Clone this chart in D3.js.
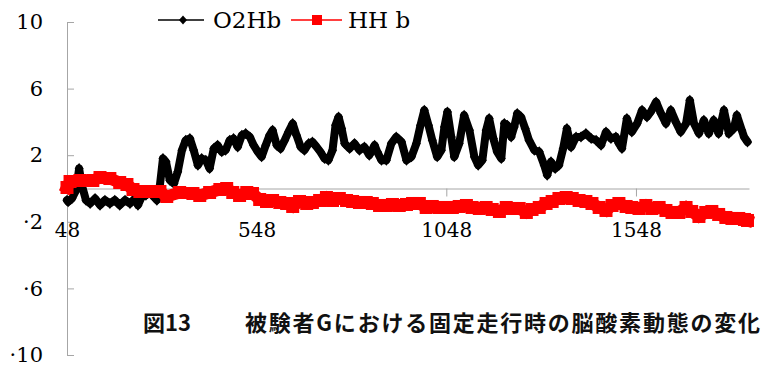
<!DOCTYPE html>
<html>
<head>
<meta charset="utf-8">
<script src="https://cdn.jsdelivr.net/npm/d3@7"></script>
<style>
  html, body { margin: 0; padding: 0; background: #fff; }
  svg { display: block; }
</style>
</head>
<body>
<svg id="chart" width="773" height="367"></svg>
<script>
// Sample numbers (frames) and concentration changes for each signal
const o2hbFrame = [48,51,61,72,80,87,98,109,122,135,148,161,174,187,201,214,227,235,245,256,
  266,277,285,293,301,309,319,330,340,351,361,372,382,393,403,414,424,435,445,456,
  466,477,487,498,509,519,530,540,551,561,572,582,590,601,611,622,632,643,653,664,
  674,685,695,706,716,727,737,748,756,764,772,780,793,806,819,832,845,859,866,877,
  890,903,916,930,943,956,969,980,990,1001,1011,1024,1035,1043,1051,1061,1069,1082,1095,1109,
  1122,1132,1143,1153,1161,1172,1182,1193,1201,1209,1219,1227,1235,1245,1256,1266,1280,1293,1306,1314,
  1324,1335,1345,1356,1366,1377,1390,1403,1416,1430,1443,1456,1469,1482,1495,1503,1511,1524,1537,1551,
  1564,1577,1587,1601,1614,1627,1640,1653,1666,1680,1690,1701,1714,1727,1740,1753,1766,1780,1793,1806,
  1814,1827,1833,1842];
const o2hbValue = [-0.7,-0.8,-0.6,-0.1,1.2,0.2,-0.7,-0.9,-0.6,-1.0,-0.7,-0.9,-0.7,-1.0,-0.7,-0.9,-0.6,-1.0,-0.5,-0.4,
  -0.2,-0.5,-0.7,0.2,1.8,1.6,0.5,0.3,1.0,2.3,2.9,3.0,2.3,1.4,1.8,1.7,1.2,2.4,2.6,2.2,
  2.3,2.9,3.0,2.5,3.2,3.3,3.1,2.6,2.2,1.9,2.6,3.2,3.5,2.6,2.4,2.9,3.4,3.9,3.2,2.5,
  2.3,2.7,2.8,2.5,2.2,1.8,1.7,2.3,3.8,4.3,3.6,2.7,2.4,2.7,2.3,2.5,2.0,2.6,2.2,1.7,
  1.7,2.7,3.1,2.8,1.7,1.9,2.7,3.8,4.7,3.8,2.9,1.9,2.3,3.7,4.6,3.1,1.9,2.7,4.4,3.5,
  1.9,1.4,1.7,3.5,4.2,3.0,2.2,1.8,3.9,3.8,3.1,3.7,4.5,4.3,3.6,2.9,2.3,2.2,1.4,0.8,
  1.6,1.2,1.4,2.4,3.6,2.5,3.1,3.1,3.3,3.0,2.9,2.6,3.4,3.0,3.1,2.7,2.4,4.2,3.4,3.9,
  4.7,4.3,4.6,5.2,4.5,3.9,4.7,4.0,3.4,3.9,5.3,3.9,3.3,4.1,3.3,4.1,3.3,4.7,3.3,3.6,
  4.4,3.5,3.1,2.8];

const hhbFrame = [48,56,82,116,135,161,187,206,222,240,266,293,311,345,380,398,424,451,469,485,
  503,522,537,556,574,590,609,627,643,661,680,695,714,732,748,766,785,801,819,837,
  853,872,890,906,924,943,959,977,995,1011,1030,1048,1064,1082,1101,1116,1135,1153,1169,1188,
  1206,1222,1240,1259,1274,1293,1311,1327,1345,1364,1380,1398,1416,1432,1451,1469,1485,1503,1522,1537,
  1556,1574,1590,1609,1627,1643,1661,1680,1695,1714,1732,1748,1766,1785,1801,1819,1834,1842];
const hhbValue = [0.06,0.42,0.48,0.48,0.66,0.6,0.36,0.24,-0.06,-0.18,-0.18,-0.18,-0.48,-0.24,-0.3,-0.42,-0.24,-0.06,0,-0.24,
  -0.42,-0.24,-0.3,-0.66,-0.78,-0.72,-0.84,-0.9,-1.08,-0.78,-0.9,-0.84,-0.72,-0.54,-0.72,-0.6,-0.72,-0.78,-0.84,-0.84,
  -0.9,-1.02,-1.02,-0.96,-1.02,-0.96,-0.9,-0.9,-1.14,-1.08,-1.14,-1.14,-1.14,-1.08,-1.02,-1.14,-1.2,-1.14,-1.26,-1.38,
  -1.14,-1.2,-1.2,-1.44,-1.26,-1.14,-0.9,-0.78,-0.6,-0.54,-0.6,-0.72,-0.78,-0.9,-1.14,-1.32,-1.02,-0.9,-1.08,-1.14,
  -1.2,-1.02,-1.2,-1.14,-1.32,-1.44,-1.44,-1.14,-1.38,-1.68,-1.44,-1.38,-1.56,-1.74,-1.8,-1.8,-1.86,-1.92];

const xTickValues = [48, 548, 1048, 1548];
const yTickValues = [10, 6, 2, -2, -6, -10];
const seriesNames = ["O2Hb", "HH b"];
const titleLead = "図13";
const titleBody = "被験者Gにおける固定走行時の脳酸素動態の変化";

const svg = d3.select("#chart");
const serif = "'DejaVu Serif', serif";
const axisGrey = "#a6a6a6";

const x = d3.scaleLinear().domain([48, 1846]).range([67, 749]);
const y = d3.scaleLinear().domain([-10, 10]).range([355, 22]);

// y axis: ticks point into the plot, labels sit to the left
const yAxis = svg.append("g")
  .attr("transform", `translate(${x(48)},0)`)
  .call(d3.axisLeft(y).tickValues(yTickValues).tickSize(-7).tickSizeOuter(0).tickPadding(24)
    .tickFormat(d => d < 0 ? "·" + Math.abs(d) : String(d)));
yAxis.select(".domain").attr("stroke", axisGrey);
yAxis.selectAll(".tick line").attr("stroke", axisGrey);
yAxis.selectAll(".tick text").attr("font-family", serif).attr("font-size", 21).attr("fill", "#000");

// x axis crosses at zero; labels hang well below the line
const xAxis = svg.append("g")
  .attr("transform", `translate(0,${y(0)})`)
  .call(d3.axisBottom(x).tickValues(xTickValues).tickSize(8).tickSizeOuter(0).tickPadding(26)
    .tickFormat(d3.format("d")));
xAxis.select(".domain").attr("stroke", axisGrey);
xAxis.selectAll(".tick line").attr("stroke", axisGrey);
xAxis.selectAll(".tick text").attr("font-family", serif).attr("font-size", 20).attr("fill", "#000");

const line = d3.line().x(d => x(d[0])).y(d => y(d[1]));
const o2hb = o2hbFrame.map((f, i) => [f, o2hbValue[i]]);
const hhb = hhbFrame.map((f, i) => [f, hhbValue[i]]);
const diamond = "M0,-5.5L4.5,0L0,5.5L-4.5,0Z";

// O2Hb: heavy line with a diamond on every sample
const gO = svg.append("g");
gO.append("path").datum(o2hb).attr("d", line)
  .attr("fill", "none").attr("stroke", "#000").attr("stroke-width", 8)
  .attr("stroke-linejoin", "round").attr("stroke-linecap", "round");
gO.selectAll("path.m").data(o2hb).join("path").attr("class", "m")
  .attr("d", diamond)
  .attr("transform", d => `translate(${x(d[0])},${y(d[1])})`)
  .attr("fill", "#000");

// HHb: heavy red line with a square on every sample
const gH = svg.append("g");
gH.append("path").datum(hhb).attr("d", line)
  .attr("fill", "none").attr("stroke", "#ff0000").attr("stroke-width", 12)
  .attr("stroke-linejoin", "miter").attr("stroke-linecap", "square");
gH.selectAll("rect").data(hhb).join("rect")
  .attr("x", d => x(d[0]) - 6.5).attr("y", d => y(d[1]) - 6.5)
  .attr("width", 13).attr("height", 13).attr("fill", "#ff0000");

// legend
const legend = svg.append("g");
legend.append("line").attr("x1", 158).attr("x2", 204).attr("y1", 20).attr("y2", 20)
  .attr("stroke", "#000").attr("stroke-width", 1.5);
legend.append("path").attr("d", "M0,-4.5L4,0L0,4.5L-4,0Z")
  .attr("transform", "translate(183,20)").attr("fill", "#000");
legend.append("text").attr("x", 213).attr("y", 28).text(seriesNames[0])
  .attr("font-family", serif).attr("font-size", 23).attr("fill", "#000");
legend.append("line").attr("x1", 291).attr("x2", 342).attr("y1", 20).attr("y2", 20)
  .attr("stroke", "#ff0000").attr("stroke-width", 1.5);
legend.append("rect").attr("x", 312).attr("y", 15).attr("width", 10).attr("height", 10)
  .attr("fill", "#ff0000");
legend.append("text").attr("x", 348).attr("y", 28).text(seriesNames[1])
  .attr("font-family", serif).attr("font-size", 23).attr("fill", "#000");

// caption
const jp = "'Noto Sans CJK JP', sans-serif";
svg.append("text").attr("x", 143).attr("y", 331).text(titleLead)
  .attr("font-family", jp).attr("font-weight", 700).attr("font-size", 22).attr("fill", "#111");
svg.append("text").attr("x", 245).attr("y", 331).text(titleBody)
  .attr("font-family", jp).attr("font-weight", 700).attr("font-size", 22).attr("fill", "#111")
  .attr("textLength", 515).attr("lengthAdjust", "spacing");
</script>
</body>
</html>
